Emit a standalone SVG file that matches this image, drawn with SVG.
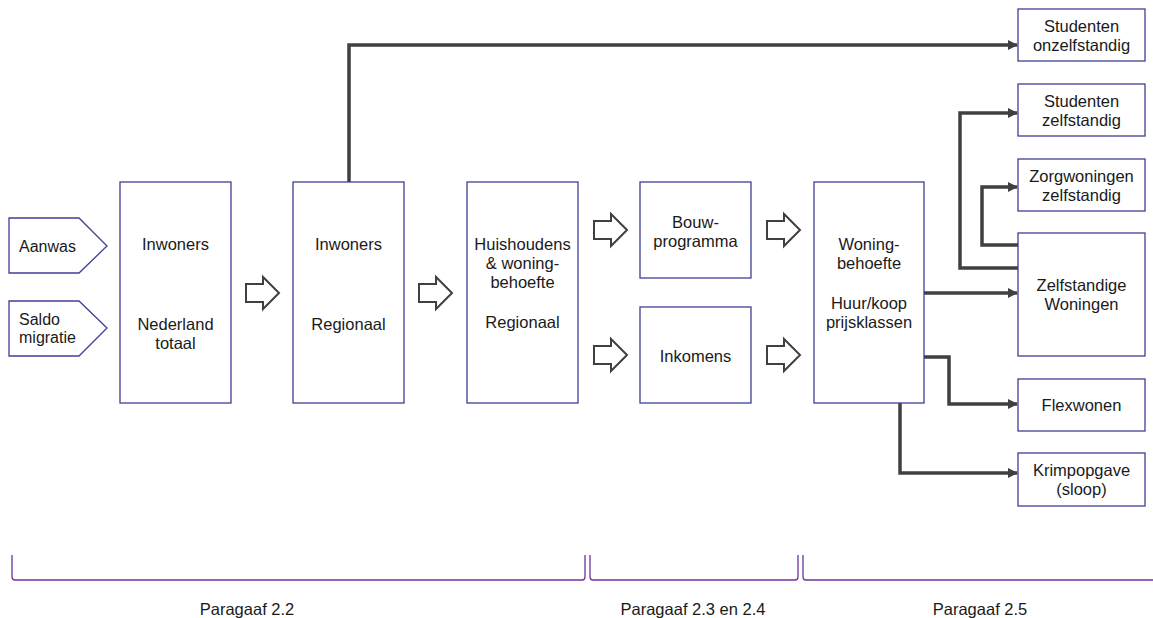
<svg xmlns="http://www.w3.org/2000/svg" width="1153" height="618" viewBox="0 0 1153 618">
<style>
.box{fill:#fff;stroke:#3f3f96;stroke-width:1.3}
.t{font-family:"Liberation Sans",Arial,sans-serif;font-size:16.5px;fill:#1a1a1a;text-anchor:middle}
.tl{font-family:"Liberation Sans",Arial,sans-serif;font-size:16px;fill:#1a1a1a}
.lbl{font-family:"Liberation Sans",Arial,sans-serif;font-size:16.5px;fill:#1a1a1a;text-anchor:middle}
.con{fill:none;stroke:#404040;stroke-width:3.5;stroke-linejoin:miter}
.hol{fill:#fff;stroke:#404040;stroke-width:2}
.br{fill:none;stroke:#7030a0;stroke-width:1.3}
</style>
<defs>
<marker id="ah" markerWidth="10" markerHeight="10" refX="9" refY="5" orient="auto" markerUnits="userSpaceOnUse" viewBox="0 0 10 10">
<path d="M0,0 L10,5 L0,10 Z" fill="#404040"/>
</marker>
<path id="hollow" class="hol" d="M0,-9 H17 V-16 L33,0 L17,16 V9 H0 Z"/>
</defs>

<g id="connectors">
<path class="con" d="M349,182 V45 H1017" marker-end="url(#ah)"/>
<path class="con" d="M1018,268 H960 V113 H1017" marker-end="url(#ah)"/>
<path class="con" d="M1018,245 H982 V187 H1017" marker-end="url(#ah)"/>
<path class="con" d="M924,293 H1017" marker-end="url(#ah)"/>
<path class="con" d="M924,357 H949 V404 H1017" marker-end="url(#ah)"/>
<path class="con" d="M900,403 V473 H1017" marker-end="url(#ah)"/>
<use href="#hollow" x="246" y="293"/>
<use href="#hollow" x="419" y="293"/>
<use href="#hollow" x="594" y="230"/>
<use href="#hollow" x="594" y="355"/>
<use href="#hollow" x="767" y="230"/>
<use href="#hollow" x="767" y="355"/>
</g>

<g id="aanwas">
<path class="box" d="M9,218 H79 L107,246 L79,273 H9 Z"/>
<text class="tl" x="19" y="252">Aanwas</text>
</g>
<g id="saldo">
<path class="box" d="M9,301 H79 L107,328 L79,356 H9 Z"/>
<text class="tl" x="19" y="325">Saldo</text>
<text class="tl" x="19" y="343">migratie</text>
</g>
<g id="inwoners-nl">
<rect class="box" x="120" y="182" width="111" height="221"/>
<text class="t" x="175.5" y="250">Inwoners</text>
<text class="t" x="175.5" y="330">Nederland</text>
<text class="t" x="175.5" y="349">totaal</text>
</g>
<g id="inwoners-reg">
<rect class="box" x="293" y="182" width="111" height="221"/>
<text class="t" x="348.5" y="250">Inwoners</text>
<text class="t" x="348.5" y="330">Regionaal</text>
</g>
<g id="huishoudens">
<rect class="box" x="467" y="182" width="111" height="221"/>
<text class="t" x="522.5" y="250">Huishoudens</text>
<text class="t" x="522.5" y="269">&amp; woning-</text>
<text class="t" x="522.5" y="288">behoefte</text>
<text class="t" x="522.5" y="328">Regionaal</text>
</g>
<g id="bouw">
<rect class="box" x="640" y="182" width="111" height="96"/>
<text class="t" x="695.5" y="228">Bouw-</text>
<text class="t" x="695.5" y="247">programma</text>
</g>
<g id="inkomens">
<rect class="box" x="640" y="307" width="111" height="96"/>
<text class="t" x="695.5" y="362">Inkomens</text>
</g>
<g id="woning">
<rect class="box" x="814" y="182" width="110" height="221"/>
<text class="t" x="869" y="250">Woning-</text>
<text class="t" x="869" y="269">behoefte</text>
<text class="t" x="869" y="309">Huur/koop</text>
<text class="t" x="869" y="328">prijsklassen</text>
</g>
<g id="stud-onz">
<rect class="box" x="1018" y="9" width="127" height="52"/>
<text class="t" x="1081.5" y="32">Studenten</text>
<text class="t" x="1081.5" y="51">onzelfstandig</text>
</g>
<g id="stud-z">
<rect class="box" x="1018" y="84" width="127" height="52"/>
<text class="t" x="1081.5" y="107">Studenten</text>
<text class="t" x="1081.5" y="126">zelfstandig</text>
</g>
<g id="zorg">
<rect class="box" x="1018" y="159" width="127" height="52"/>
<text class="t" x="1081.5" y="182">Zorgwoningen</text>
<text class="t" x="1081.5" y="201">zelfstandig</text>
</g>
<g id="zelfst">
<rect class="box" x="1018" y="233" width="127" height="123"/>
<text class="t" x="1081.5" y="291">Zelfstandige</text>
<text class="t" x="1081.5" y="310">Woningen</text>
</g>
<g id="flex">
<rect class="box" x="1018" y="379" width="127" height="52"/>
<text class="t" x="1081.5" y="411">Flexwonen</text>
</g>
<g id="krimp">
<rect class="box" x="1018" y="453" width="127" height="53"/>
<text class="t" x="1081.5" y="476">Krimpopgave</text>
<text class="t" x="1081.5" y="495">(sloop)</text>
</g>

<g id="brackets">
<path class="br" d="M12,555 V577 Q12,580 15,580 H582 Q585,580 585,577 V555"/>
<path class="br" d="M590,555 V577 Q590,580 593,580 H795 Q798,580 798,577 V555"/>
<path class="br" d="M803,555 V577 Q803,580 806,580 H1153"/>
<text class="lbl" x="247" y="615">Paragaaf 2.2</text>
<text class="lbl" x="693" y="615">Paragaaf 2.3 en 2.4</text>
<text class="lbl" x="980" y="615">Paragaaf 2.5</text>
</g>
</svg>
